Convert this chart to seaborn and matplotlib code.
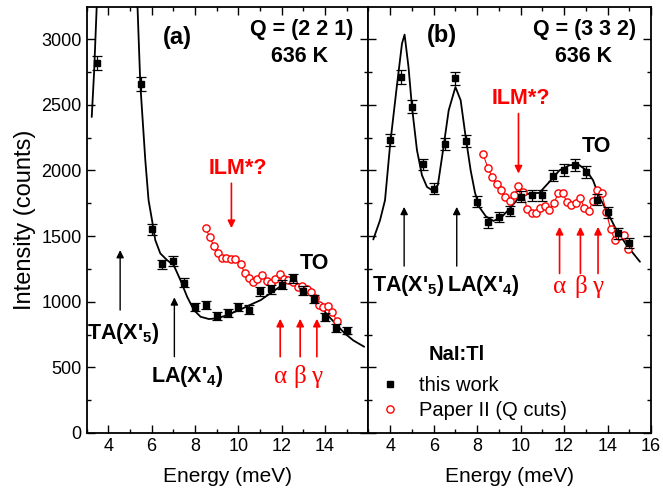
#!/usr/bin/env python3
# NaI:Tl inelastic scans, two Q points at 636 K

import numpy as np
import matplotlib
matplotlib.use("Agg")
import matplotlib.pyplot as plt
from matplotlib.lines import Line2D
import seaborn as sns

# ---- panel (a): Q = (2 2 1) ----
a_e = [3.5, 5.5, 6.0, 6.5, 7.0, 7.5, 8.0, 8.5, 9.0, 9.5, 10.0, 10.5, 11.0,
       11.5, 12.0, 12.5, 13.0, 13.5, 14.0, 14.5, 15.0]
a_int = [2820, 2660, 1550, 1285, 1310, 1145, 957, 975, 890, 915, 957, 940,
         1080, 1095, 1130, 1180, 1085, 1020, 885, 800, 780]
a_err = [53, 52, 39, 36, 36, 34, 31, 31, 30, 30, 31, 31, 33, 33, 34, 34, 33,
         32, 30, 28, 28]

a_p2_e = [8.49, 8.69, 8.87, 9.06, 9.26, 9.44, 9.64, 9.83, 10.1, 10.29, 10.49,
          10.69, 10.88, 11.11, 11.3, 11.5, 11.69, 11.91, 12.11, 12.31, 12.53,
          12.73, 12.92, 13.15, 13.35, 13.53, 13.7, 13.92, 14.12, 14.32, 14.54]
a_p2_int = [1558, 1490, 1423, 1367, 1329, 1334, 1324, 1322, 1284, 1220, 1177,
            1147, 1174, 1200, 1157, 1139, 1170, 1208, 1170, 1164, 1149, 1113,
            1119, 1093, 1075, 1025, 974, 957, 966, 923, 852]

a_fit_e = [3.24, 3.35, 3.47, 3.55, 5.25, 5.35, 5.48, 5.71, 5.86, 6.02, 6.17,
           6.4, 6.71, 7.02, 7.33, 7.64, 7.95, 8.26, 8.64, 9.03, 9.49, 10.1,
           10.6, 11.03, 11.4, 11.8, 12.1, 12.4, 12.7, 13.0, 13.5, 14.1, 14.9,
           15.3, 15.8]
a_fit_int = [2407, 2750, 3250, 3600, 3600, 3250, 2656, 2078, 1773, 1621, 1469,
             1368, 1317, 1278, 1164, 1037, 936, 885, 868, 873, 898, 941, 980,
             1012, 1055, 1101, 1135, 1152, 1140, 1105, 1025, 900, 759, 705, 657]

# ---- panel (b): Q = (3 3 2) ----
b_e = [4.0, 4.5, 5.0, 5.5, 6.0, 6.5, 7.0, 7.5, 8.0, 8.5, 9.0, 9.5, 10.0,
       10.5, 11.0, 11.5, 12.0, 12.5, 13.0, 13.5, 14.0, 14.5, 15.0]
b_int = [2230, 2710, 2485, 2045, 1860, 2200, 2700, 2225, 1760, 1605, 1645,
         1690, 1800, 1810, 1810, 1960, 2000, 2040, 1990, 1775, 1680, 1520, 1450]
b_err = [47, 52, 50, 45, 43, 47, 52, 47, 42, 40, 41, 41, 42, 43, 43, 44, 45,
         45, 45, 42, 41, 39, 38]

b_p2_e = [8.27, 8.5, 8.7, 8.9, 9.1, 9.3, 9.5, 9.7, 9.9, 10.1, 10.3, 10.5,
          10.71, 10.91, 11.12, 11.32, 11.53, 11.73, 11.93, 12.13, 12.33, 12.53,
          12.73, 12.93, 13.13, 13.33, 13.53, 13.73, 13.94, 14.14, 14.33, 14.53,
          14.74, 14.94]
b_p2_int = [2123, 2017, 1946, 1893, 1847, 1798, 1766, 1811, 1882, 1837, 1705,
            1672, 1672, 1710, 1727, 1702, 1753, 1824, 1824, 1760, 1735, 1753,
            1791, 1717, 1692, 1766, 1854, 1824, 1684, 1550, 1472, 1498, 1510,
            1403]

b_fit_e = [3.22, 3.53, 3.76, 4.0, 4.3, 4.54, 4.66, 4.84, 5.0, 5.23, 5.46,
           5.69, 5.93, 6.19, 6.43, 6.69, 7.0, 7.24, 7.47, 7.7, 7.9, 8.1, 8.4,
           8.75, 9.1, 9.5, 9.95, 10.4, 10.86, 11.32, 11.79, 12.25, 12.64,
           13.02, 13.33, 13.64, 13.95, 14.33, 14.87, 15.49]
b_fit_int = [1474, 1620, 1773, 2205, 2635, 2965, 3034, 2788, 2483, 2154, 1963,
             1874, 1849, 1887, 2154, 2458, 2635, 2534, 2255, 2000, 1830, 1720,
             1650, 1615, 1640, 1710, 1798, 1824, 1829, 1912, 2001, 2039, 2047,
             2001, 1925, 1790, 1697, 1570, 1431, 1304]

RED = "#ff0000"

sns.set_theme(style="ticks")
plt.rcParams["font.family"] = ["Liberation Sans", "DejaVu Sans"]
plt.rcParams["mathtext.fontset"] = "custom"
plt.rcParams["mathtext.bf"] = "Liberation Sans:bold"
plt.rcParams["mathtext.rm"] = "Liberation Sans"
for k in ("text.color", "axes.labelcolor", "xtick.color", "ytick.color",
          "axes.edgecolor"):
    plt.rcParams[k] = "black"

fig = plt.figure(figsize=(6.63, 4.95), dpi=100)
ax1 = fig.add_axes([0.1305, 0.1253, 0.4253, 0.8607])
ax2 = fig.add_axes([0.5558, 0.1253, 0.4262, 0.8607])


def draw_panel(ax, e, y, err, p2e, p2y, fe, fy):
    sns.lineplot(x=fe, y=fy, ax=ax, color="black", lw=1.3, sort=False,
                 estimator=None)
    sns.lineplot(x=p2e, y=p2y, ax=ax, color=RED, lw=0.8, sort=False,
                 estimator=None, zorder=3)
    ax.plot(p2e, p2y, "o", mfc="white", mec=RED, mew=1.0, ms=5.2, zorder=4)
    ax.errorbar(e, y, yerr=err, fmt="s", color="black", ms=5, capsize=3.5,
                elinewidth=0.9, capthick=0.9, zorder=5)


draw_panel(ax1, a_e, a_int, a_err, a_p2_e, a_p2_int, a_fit_e, a_fit_int)
draw_panel(ax2, b_e, b_int, b_err, b_p2_e, b_p2_int, b_fit_e, b_fit_int)

for ax in (ax1, ax2):
    ax.set_xlim(3, 16)
    ax.set_ylim(0, 3245)
    ax.set_xlabel("Energy (meV)", fontsize=15, labelpad=9)
    ax.set_yticks(np.arange(0, 3001, 500))
    ax.set_yticks(np.arange(0, 3250, 250), minor=True)
    ax.set_xticks(np.arange(3, 16.5, 1), minor=True)
    ax.tick_params(which="both", direction="in", top=True, right=True,
                   width=1.0)
    ax.tick_params(which="major", length=5.5, labelsize=13)
    ax.tick_params(which="minor", length=3)
    for s in ax.spines.values():
        s.set_linewidth(1.3)
        s.set_color("black")

ax1.set_xticks([4, 6, 8, 10, 12, 14])
ax2.set_xticks([4, 6, 8, 10, 12, 14, 16])
ax2.set_yticklabels([])
ax1.set_ylabel("Intensity (counts)", fontsize=17, labelpad=4)
ax2.set_ylabel("")

bold = dict(fontsize=15.5, fontweight="bold")
greek = dict(fontsize=18, color=RED, family=["Liberation Serif", "DejaVu Serif"],
             ha="center", va="center")


def arrow(ax, x, y0, y1, color, lw=1.0):
    ax.annotate("", xy=(x, y1), xytext=(x, y0),
                arrowprops=dict(arrowstyle="-|>", color=color, lw=lw,
                                mutation_scale=11, shrinkA=0, shrinkB=0))


# panel (a) texts
ax1.text(7.2, 3015, "(a)", fontsize=17, fontweight="bold", ha="center", va="center")
ax1.text(0.945, 0.946, "Q = (2 2 1)", transform=ax1.transAxes, ha="right",
         va="center", **bold)
ax1.text(0.757, 0.883, "636 K", transform=ax1.transAxes, ha="center",
         va="center", **bold)
ax1.text(10.0, 2014, "ILM*?", color=RED, ha="center", va="center", **bold)
arrow(ax1, 9.68, 1902, 1560, RED, 1.2)
ax1.text(13.5, 1291, "TO", ha="center", va="center", **bold)
arrow(ax1, 4.55, 936, 1393, "black")
ax1.text(4.7, 759, r"TA(X'$_\mathbf{5}$)", ha="center", va="center", **bold)
arrow(ax1, 7.05, 581, 1033, "black")
ax1.text(7.65, 428, r"LA(X'$_\mathbf{4}$)", ha="center", va="center", **bold)
for xg, g in zip([11.93, 12.85, 13.62], ["α", "β", "γ"]):
    arrow(ax1, xg, 581, 870, RED, 1.2)
    ax1.text(xg, 428, g, **greek)

# panel (b) texts
ax2.text(6.36, 3029, "(b)", fontsize=17, fontweight="bold", ha="center", va="center")
ax2.text(0.946, 0.946, "Q = (3 3 2)", transform=ax2.transAxes, ha="right",
         va="center", **bold)
ax2.text(0.760, 0.883, "636 K", transform=ax2.transAxes, ha="center",
         va="center", **bold)
ax2.text(10.0, 2547, "ILM*?", color=RED, ha="center", va="center", **bold)
arrow(ax2, 9.9, 2433, 1976, RED, 1.2)
ax2.text(13.5, 2179, "TO", ha="center", va="center", **bold)
arrow(ax2, 4.64, 1271, 1722, "black")
arrow(ax2, 7.06, 1271, 1722, "black")
ax2.text(4.83, 1126, r"TA(X'$_\mathbf{5}$)", ha="center", va="center", **bold)
ax2.text(8.3, 1126, r"LA(X'$_\mathbf{4}$)", ha="center", va="center", **bold)
for xg, g in zip([11.79, 12.75, 13.56], ["α", "β", "γ"]):
    arrow(ax2, xg, 1215, 1570, RED, 1.2)
    ax2.text(xg, 1113, g, **greek)

# legend
ax2.text(7.08, 594, "NaI:Tl", ha="center", va="center", fontsize=14.5,
         fontweight="bold")
handles = [Line2D([], [], ls="none", marker="s", color="black", ms=5),
           Line2D([], [], ls="none", marker="o", mfc="white", mec=RED,
                  mew=1.0, ms=5.2)]
ax2.legend(handles, ["this work", "Paper II (Q cuts)"], loc="lower left",
           bbox_to_anchor=(0.041, 0.03), borderaxespad=0, borderpad=0,
           frameon=False, fontsize=14.5, handlelength=1.0,
           handletextpad=0.95, labelspacing=0.32)

fig.savefig("out.png", dpi=100)
